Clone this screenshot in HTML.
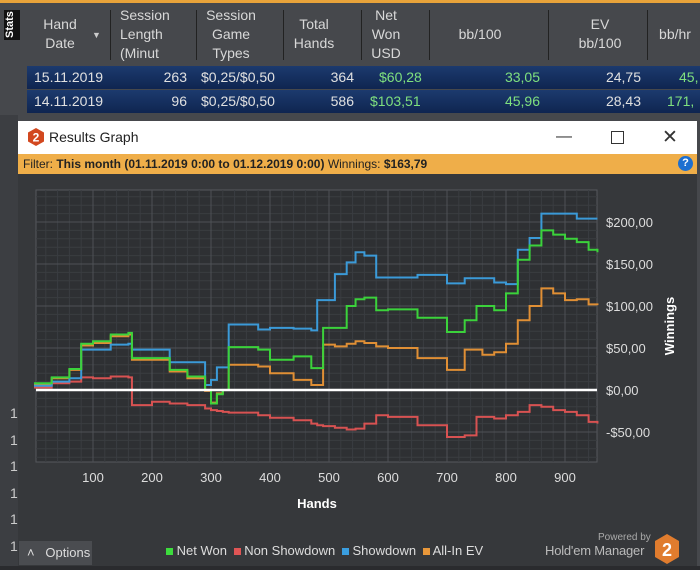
<!DOCTYPE html>
<html style="overflow:hidden;width:700px;height:570px"><head><meta charset="utf-8"><style>
body{margin:0;width:700px;height:570px;overflow:hidden;background:#46484c;font-family:"Liberation Sans",sans-serif;position:relative}
.a{position:absolute}
.hd{color:#d8d8d8;font-size:14px;line-height:19px;text-align:center}
.row{position:absolute;left:27px;width:673px;height:23px;background:linear-gradient(#1c3a6e,#0f2550);color:#e0e0e0;font-size:14px;line-height:23px;overflow:hidden}
.row span{position:absolute;white-space:nowrap}
.g{color:#7fe07f}
</style></head><body>
<div class="a" style="left:0;top:0;width:700px;height:3px;background:#e8a33a"></div>
<div class="a" style="left:4px;top:10px;width:16px;height:30px;background:#111;color:#fff;font-size:11px;font-weight:bold;writing-mode:vertical-rl;transform:rotate(180deg);text-align:center">Stats</div>
<div class="a hd" style="left:30px;top:15px;width:60px">Hand<br>Date</div>
<div class="a" style="left:92px;top:30px;color:#ccc;font-size:9px">▼</div>
<div class="a hd" style="left:112px;top:6px;width:80px;text-align:left;padding-left:8px">Session<br>Length<br>(Minut</div>
<div class="a hd" style="left:196px;top:6px;width:70px">Session<br>Game<br>Types</div>
<div class="a hd" style="left:284px;top:15px;width:60px">Total<br>Hands</div>
<div class="a hd" style="left:360px;top:6px;width:52px">Net<br>Won<br>USD</div>
<div class="a hd" style="left:430px;top:25px;width:100px">bb/100</div>
<div class="a hd" style="left:550px;top:15px;width:100px">EV<br>bb/100</div>
<div class="a hd" style="left:650px;top:25px;width:50px">bb/hr</div>
<div class="a" style="left:110px;top:10px;width:1px;height:50px;background:#222"></div>
<div class="a" style="left:196px;top:10px;width:1px;height:50px;background:#222"></div>
<div class="a" style="left:283px;top:10px;width:1px;height:50px;background:#222"></div>
<div class="a" style="left:361px;top:10px;width:1px;height:50px;background:#222"></div>
<div class="a" style="left:429px;top:10px;width:1px;height:50px;background:#222"></div>
<div class="a" style="left:548px;top:10px;width:1px;height:50px;background:#222"></div>
<div class="a" style="left:647px;top:10px;width:1px;height:50px;background:#222"></div>
<div class="row" style="top:66px"><span style="left:7px">15.11.2019</span><span style="right:513px">263</span><span style="left:174px">$0,25/$0,50</span><span style="right:346px">364</span><span class="g" style="left:352px">$60,28</span><span class="g" style="right:160px">33,05</span><span style="right:59px">24,75</span><span class="g" style="left:652px">45,</span></div>
<div class="row" style="top:90px"><span style="left:7px">14.11.2019</span><span style="right:513px">96</span><span style="left:174px">$0,25/$0,50</span><span style="right:346px">586</span><span class="g" style="left:343px">$103,51</span><span class="g" style="right:160px">45,96</span><span style="right:59px">28,43</span><span class="g" style="left:640px">171,</span></div>
<div class="a" style="left:0;top:115px;width:18px;height:455px;background:#3c3e42"></div>
<div class="a" style="left:0;top:400px;width:18px;height:160px;overflow:hidden;color:#ccc;font-size:14px;line-height:26.6px;padding-left:10px;box-sizing:border-box">1<br>1<br>1<br>1<br>1<br>1</div>
<div class="a" style="left:18px;top:121px;width:679px;height:445px;background:#36383b"></div>
<div class="a" style="left:18px;top:121px;width:679px;height:33px;background:#fff"></div>
<svg class="a" style="left:27px;top:128px" width="18" height="18"><polygon points="9,0 17,4.5 17,13.5 9,18 1,13.5 1,4.5" fill="#d2481f"/><text x="9" y="13.5" font-size="12" font-weight="bold" fill="#fff" text-anchor="middle" font-family="Liberation Sans">2</text></svg>
<div class="a" style="left:49px;top:129px;font-size:14px;color:#222">Results Graph</div>
<div class="a" style="left:556px;top:128px;font-size:16px;color:#333">—</div>
<div class="a" style="left:611px;top:131px;width:11px;height:11px;border:1px solid #333"></div>
<div class="a" style="left:662px;top:126px;font-size:19px;color:#333">✕</div>
<div class="a" style="left:18px;top:154px;width:679px;height:20px;background:#efae49;font-size:12px;line-height:20px;color:#222;padding-left:5px;box-sizing:border-box">Filter: <b>This month (01.11.2019 0:00 to 01.12.2019 0:00)</b> Winnings: <b>$163,79</b></div>
<div class="a" style="left:678px;top:156px;width:15px;height:15px;border-radius:50%;background:#1d6fd0;color:#fff;font-size:11px;font-weight:bold;text-align:center;line-height:15px">?</div>
<svg class="a" id="chart" style="left:0;top:0" width="700" height="570"></svg>
<div class="a" style="left:19px;top:541px;width:73px;height:24px;background:#4a4c50;color:#ddd;font-size:13px;line-height:24px;padding-left:8px;box-sizing:border-box">˄&nbsp;&nbsp; Options</div>
<div class="a" style="left:166px;top:543px;font-size:13px;color:#ddd;white-space:nowrap">
<span><span style="display:inline-block;width:7px;height:7px;background:#3ddc3d"></span> Net Won</span>
<span><span style="display:inline-block;width:7px;height:7px;background:#e05555;margin-left:3px"></span> Non Showdown</span>
<span><span style="display:inline-block;width:7px;height:7px;background:#3a9ee0;margin-left:3px"></span> Showdown</span>
<span><span style="display:inline-block;width:7px;height:7px;background:#e8973a;margin-left:3px"></span> All-In EV</span></div>
<div class="a" style="left:598px;top:532px;font-size:10px;color:#aaa">Powered by</div>
<div class="a" style="left:545px;top:543px;font-size:13px;color:#bbb;letter-spacing:-0.2px">Hold'em Manager</div>
<svg class="a" style="left:654px;top:534px" width="26" height="30"><polygon points="13,0 25,7 25,23 13,30 1,23 1,7" fill="#e07c2e"/><text x="13" y="22" font-size="18" font-weight="bold" fill="#fff" text-anchor="middle" font-family="Liberation Sans">2</text></svg>
<div class="a" style="left:0;top:566px;width:700px;height:4px;background:#2a2b2e"></div>
<script>
const hands=[0,30,60,80,100,130,160,166,200,230,260,290,300,310,320,330,380,400,440,470,480,490,510,530,545,560,580,600,650,700,730,750,760,780,800,820,840,860,880,900,920,940,955];
const netWon=[8,15,25,55,58,66,68,38,38,24,16,0,-16,-5,0,51,48,36,40,26,26,74,74,100,108,110,95,96,86,69,83,100,100,95,115,155,172,190,185,180,176,167,164];
const showdown=[5,10,14,48,48,54,55,48,48,33,33,6,12,27,27,78,72,74,73,71,107,107,138,152,164,160,134,134,137,127,133,133,133,128,126,167,181,210,210,210,204,204,204];
const allInEV=[7,14,24,53,56,64,66,36,36,22,14,-1,-15,-4,0,30,28,20,12,6,6,54,52,55,58,56,52,50,38,24,48,48,42,45,55,83,100,121,115,107,108,102,101];
const nonShowdown=[3,8,10,15,14,16,15,-18,-14,-16,-18,-22,-24,-25,-26,-27,-30,-33,-36,-40,-42,-43,-45,-47,-46,-40,-30,-32,-42,-56,-54,-32,-32,-34,-30,-26,-18,-20,-24,-26,-30,-38,-40];
const xTicks=[100,200,300,400,500,600,700,800,900];
const yTicks=[-50,0,50,100,150,200];
const yLabels=["-$50,00","$0,00","$50,00","$100,00","$150,00","$200,00"];
const NS="http://www.w3.org/2000/svg",svg=document.getElementById('chart');
const L=36,R=597,T=190,B=462;
const xs=h=>34+h*0.59, ys=v=>390-v*0.84;
function mk(t,a,p){const e=document.createElementNS(NS,t);for(const k in a)e.setAttribute(k,a[k]);(p||svg).appendChild(e);return e;}
const bg=mk('rect',{x:L,y:T,width:R-L,height:B-T,fill:'#2e3033',stroke:'#55585d'});


for(let h=20;h<=950;h+=20){const x=xs(h);if(x>L&&x<R)mk('line',{x1:x,x2:x,y1:T,y2:B,stroke:'#3a3d41','stroke-width':1});}
for(let v=-80;v<=230;v+=10){const y=ys(v);if(y>T&&y<B)mk('line',{x1:L,x2:R,y1:y,y2:y,stroke:'#3a3d41','stroke-width':1});}
xTicks.forEach(h=>{const x=xs(h);mk('line',{x1:x,x2:x,y1:T,y2:B,stroke:'#4e5156'});
const t=mk('text',{x:x,y:482,fill:'#ddd','font-size':13,'text-anchor':'middle'});t.textContent=h;

});
yTicks.forEach((v,i)=>{const y=ys(v);mk('line',{x1:L,x2:R,y1:y,y2:y,stroke:'#4e5156'});
const t=mk('text',{x:606,y:y+5,fill:'#ddd','font-size':13});t.textContent=yLabels[i];

});
function series(vals,col,name){let d='';vals.forEach((v,i)=>{const x=xs(hands[i]),y=ys(v);
if(i==0)d+='M'+x+' '+y;else d+='H'+x+'V'+y;});
const p=mk('path',{d:d,fill:'none',stroke:col,'stroke-width':2});

}
series(nonShowdown,'#d85252','non-showdown-line');
series(allInEV,'#e08f35','all-in-ev-line');
series(showdown,'#3b9ad8','showdown-line');
series(netWon,'#3bd23b','net-won-line');
const z=mk('line',{x1:L,x2:R,y1:ys(0),y2:ys(0),stroke:'#fff','stroke-width':2.5});


const xt=mk('text',{x:317,y:508,fill:'#fff','font-size':13,'font-weight':'bold','text-anchor':'middle'});xt.textContent='Hands';


const yt=mk('text',{x:0,y:0,fill:'#fff','font-size':13,'font-weight':'bold','text-anchor':'middle',transform:'translate(674,326) rotate(-90)'});yt.textContent='Winnings';


</script>
</body></html>
